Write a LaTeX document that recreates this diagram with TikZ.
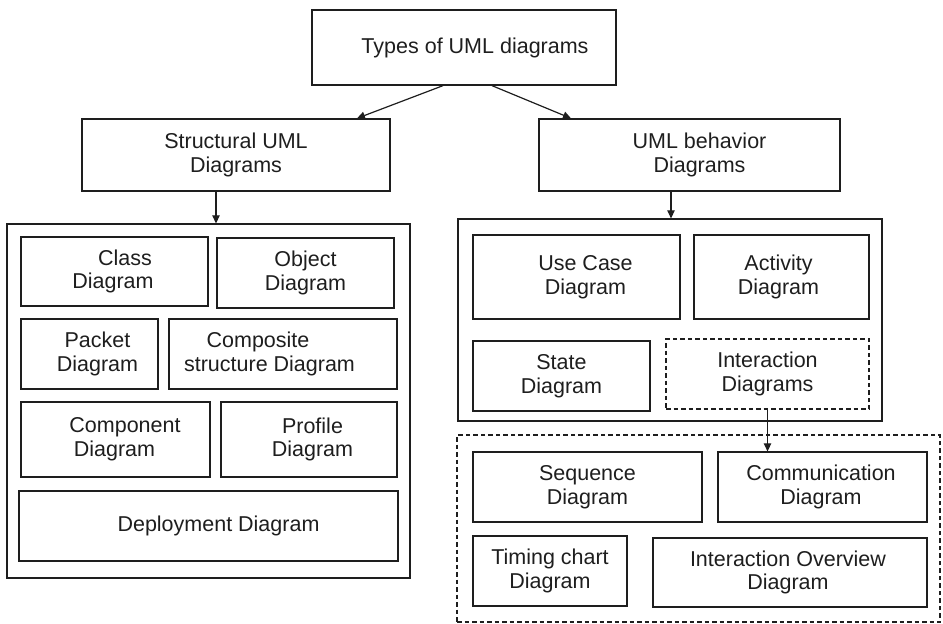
\documentclass[tikz,border=0pt]{standalone}
\usepackage{fontspec}
\setmainfont{Liberation Sans}
\usetikzlibrary{arrows.meta}
\definecolor{ink}{HTML}{1E1E1E}
\begin{document}
\begin{tikzpicture}[x=1pt, y=-1pt,
  frame/.style={draw=ink, line width=1.3pt, inner sep=0pt, minimum width=#1},
  dframe/.style={frame=#1, dash pattern=on 4.5pt off 3pt},
  txt/.style={align=center, inner sep=0pt, text=ink,
    font=\fontsize{21.5}{23.7}\selectfont},
  arr/.style={draw=ink, line width=1.2pt, -{Triangle[length=8pt,width=7.5pt]}}]
\useasboundingbox (0,0) rectangle (943,624);

% root and the two families
\node[frame=304, minimum height=75] (top) at (464,47.5) {};
\node[txt] (topT) at ([xshift=11pt]top.center) {Types of UML diagrams};
\node[frame=308, minimum height=72] (struct) at (236,155) {};
\node[txt] (structT) at (struct.center) {Structural UML\\Diagrams};
\node[frame=301, minimum height=72] (behav) at (689.5,155) {};
\node[txt] (behavT) at ([xshift=10pt]behav.center) {UML behavior\\Diagrams};

% structural diagrams
\node[frame=403, minimum height=354] (leftouter) at (208.5,401) {};
\node[frame=187, minimum height=69] (class) at (114.5,271.5) {};
\node[txt] (classT) at ([xshift=-1.5pt]class.center) {\hspace*{24pt}Class\\Diagram};
\node[frame=177, minimum height=70] (object) at (305.5,273) {};
\node[txt] (objectT) at (object.center) {Object\\Diagram};
\node[frame=137, minimum height=70] (packet) at (89.5,354) {};
\node[txt] (packetT) at ([xshift=8pt]packet.center) {Packet\\Diagram};
\node[frame=228, minimum height=70] (composite) at (283,354) {};
\node[txt] (compositeT) at ([xshift=-13.5pt]composite.center) {Composite\hspace*{23pt}\\structure Diagram};
\node[frame=189, minimum height=75] (component) at (115.5,439.5) {};
\node[txt] (componentT) at ([xshift=-1pt]component.center) {\hspace*{21pt}Component\\Diagram};
\node[frame=176, minimum height=75] (profile) at (309,439.5) {};
\node[txt] (profileT) at ([xshift=3.5pt]profile.center) {Profile\\Diagram};
\node[frame=379, minimum height=70] (deploy) at (208.5,526) {};
\node[txt] (deployT) at ([xshift=10pt]deploy.center) {Deployment Diagram};

% behavior diagrams
\node[frame=424, minimum height=202] (rightouter) at (670,320) {};
\node[frame=207, minimum height=84] (usecase) at (576.5,277) {};
\node[txt] (usecaseT) at ([xshift=9pt]usecase.center) {Use Case\\Diagram};
\node[frame=175, minimum height=84] (activity) at (781.5,277) {};
\node[txt] (activityT) at ([xshift=-3pt]activity.center) {Activity\\Diagram};
\node[frame=177, minimum height=70] (state) at (561.5,376) {};
\node[txt] (stateT) at (state.center) {State\\Diagram};
\node[dframe=203, minimum height=70] (inter) at (767.5,374) {};
\node[txt] (interT) at (inter.center) {Interaction\\Diagrams};

% interaction diagrams
\node[dframe=483, minimum height=187] (dashouter) at (698.5,528.5) {};
\node[frame=229, minimum height=70] (sequence) at (587.5,487) {};
\node[txt] (sequenceT) at (sequence.center) {Sequence\\Diagram};
\node[frame=209, minimum height=70] (comm) at (822.5,487) {};
\node[txt] (commT) at ([xshift=-1.5pt]comm.center) {Communication\\Diagram};
\node[frame=154, minimum height=70] (timing) at (550,571) {};
\node[txt] (timingT) at (timing.center) {Timing chart\\Diagram};
\node[frame=274, minimum height=69] (overview) at (790,572.5) {};
\node[txt] (overviewT) at ([xshift=-2pt]overview.center) {Interaction Overview\\Diagram};

% connectors
\draw[arr] ([xshift=-21pt]top.south) -- ([xshift=121pt]struct.north);
\draw[arr] ([xshift=28pt]top.south) -- ([xshift=-118.5pt]behav.north);
\draw[arr] ([xshift=-20pt]struct.south) -- ([xshift=-20pt]struct.south |- leftouter.north);
\draw[arr] ([xshift=-18.5pt]behav.south) -- ([xshift=-18.5pt]behav.south |- rightouter.north);
\draw[arr] (inter.south) -- (inter.south |- comm.north);
\end{tikzpicture}
\end{document}
